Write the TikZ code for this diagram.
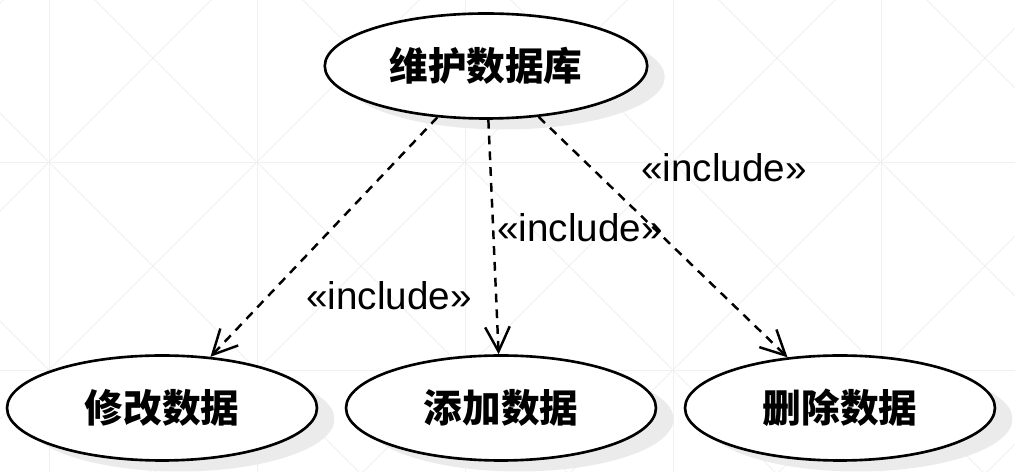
\documentclass[tikz,border=0pt]{standalone}
\usepackage{fontspec}
\setmainfont{Liberation Sans}
\newfontfamily\cjk{Noto Sans CJK SC}
\usetikzlibrary{shapes.geometric,arrows.meta,shadows}
\tikzset{
  usecase/.style={ellipse, draw, line width=1.5pt, fill=white,
    minimum width=6.2cm, minimum height=2.1cm, inner sep=0pt,
    font=\cjk\bfseries\fontsize{22}{26}\selectfont,
    drop shadow={shadow xshift=0.35cm, shadow yshift=-0.22cm, fill=black!8, opacity=1}},
  include/.style={dash pattern=on 5pt off 4pt, line width=1.4pt,
    -{Straight Barb[length=14pt,width=14pt,line width=1.4pt]}},
  stereo/.style={font=\fontsize{22}{26}\selectfont},
  backline/.style={black!6, line width=0.5pt}
}
\begin{document}
\begin{tikzpicture}[x=0.02cm,y=-0.02cm]
  \useasboundingbox (0,0) rectangle (1015,472);
  % faint background grid
  \begin{scope}
    \clip (0,0) rectangle (1015,472);
    \foreach \x in {49,257,465,673,881} \draw[backline] (\x,0) -- (\x,472);
    \foreach \y in {162,370} \draw[backline] (0,\y) -- (1015,\y);
    \foreach \c in {-737,-529,-321,-113,95,303,511,719,927} \draw[backline] (\c,0) -- ({\c+472},472);
    \foreach \c in {3,211,419,627,835,1043,1251,1459} \draw[backline] (\c,0) -- ({\c-472},472);
  \end{scope}
  % use cases
  \node[usecase, minimum width=6.45cm] (db) at (486,66) {维护数据库};
  \node[usecase] (modify) at (162,408) {修改数据};
  \node[usecase] (add) at (501,408) {添加数据};
  \node[usecase] (delete) at (840,408) {删除数据};
  % include relations
  \draw[include] (db) -- (modify);
  \draw[include] (db) -- (add);
  \draw[include] (db) -- (delete);
  \node[stereo] (incmodify) at (389,296) {«include»};
  \node[stereo] (incadd) at (580,228) {«include»};
  \node[stereo] (incdelete) at (724,168) {«include»};
\end{tikzpicture}
\end{document}
